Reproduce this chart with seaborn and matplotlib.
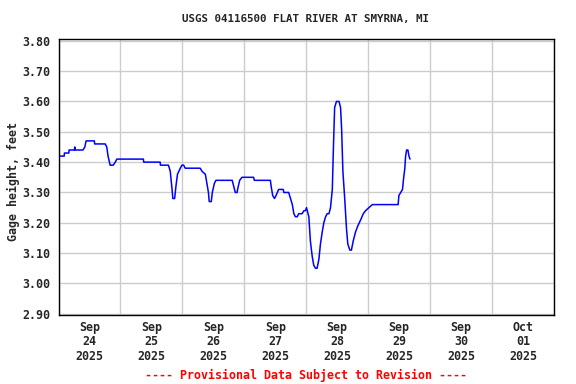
import pandas as pd
import seaborn as sns
import matplotlib.pyplot as plt

# hours since Sep 24 00:00, gage height in feet
hours = [0, 2.2, 2.3, 4.0, 4.1, 6.2, 6.3, 6.5, 9.5, 10.2, 10.7, 13.9, 14.0, 18.1, 18.7,
         19.2, 20.0, 21.2, 22.0, 22.6, 32.9, 33.0, 39.4, 39.5, 42.6, 43.3, 44.0, 44.3, 45.0,
         45.5, 46.1, 47.2, 47.8, 48.5, 49.1, 54.9, 55.6, 56.9, 57.5, 58.1, 58.4, 59.2, 59.6,
         60.4, 61.0, 67.3, 67.9, 68.5, 69.2, 69.4, 70.2, 71.1, 75.6, 75.9, 82.1, 82.4, 83.0,
         83.7, 84.3, 85.3, 86.0, 87.1, 87.3, 89.2, 89.9, 90.6, 91.2, 91.8, 92.5, 93.1, 94.4,
         95.1, 95.7, 96.1, 96.4, 97.0, 97.6, 98.3, 98.9, 99.6, 100.2, 100.9, 101.5, 102.2,
         102.8, 103.5, 104.1, 104.8, 105.4, 106.1, 106.5, 107.0, 107.7, 108.7, 109.3, 109.7,
         110.2, 110.9, 111.6, 112.1, 112.9, 113.5, 114.2, 115.1, 116.0, 117.1, 118.1, 119.0,
         120.3, 121.6, 131.6, 131.9, 132.6, 133.3, 133.7, 134.2, 134.5, 134.9, 135.4, 135.8,
         136.2]
gage = [3.42, 3.42, 3.43, 3.43, 3.44, 3.44, 3.45, 3.44, 3.44, 3.45, 3.47, 3.47, 3.46, 3.46, 3.45,
        3.42, 3.39, 3.39, 3.40, 3.41, 3.41, 3.40, 3.40, 3.39, 3.39, 3.37, 3.31, 3.28, 3.28,
        3.32, 3.36, 3.38, 3.39, 3.39, 3.38, 3.38, 3.37, 3.36, 3.33, 3.30, 3.27, 3.27, 3.30,
        3.33, 3.34, 3.34, 3.32, 3.30, 3.30, 3.31, 3.34, 3.35, 3.35, 3.34, 3.34, 3.32, 3.29,
        3.28, 3.29, 3.31, 3.31, 3.31, 3.30, 3.30, 3.28, 3.26, 3.23, 3.22, 3.22, 3.23, 3.23,
        3.24, 3.24, 3.25, 3.24, 3.22, 3.14, 3.09, 3.06, 3.05, 3.05, 3.08, 3.13, 3.17,
        3.20, 3.22, 3.23, 3.23, 3.25, 3.31, 3.44, 3.58, 3.60, 3.60, 3.58, 3.51,
        3.37, 3.28, 3.18, 3.13, 3.11, 3.11, 3.14, 3.17, 3.19, 3.21, 3.23, 3.24,
        3.25, 3.26, 3.26, 3.29, 3.30, 3.31, 3.345, 3.38, 3.42, 3.44, 3.44, 3.42,
        3.41]

day_labels = ['Sep\n24\n2025', 'Sep\n25\n2025', 'Sep\n26\n2025', 'Sep\n27\n2025',
              'Sep\n28\n2025', 'Sep\n29\n2025', 'Sep\n30\n2025', 'Oct\n01\n2025']
y_ticks = [2.90, 3.00, 3.10, 3.20, 3.30, 3.40, 3.50, 3.60, 3.70, 3.80]

df = pd.DataFrame({'hours': hours, 'gage': gage})

sns.set_style('white')
plt.rcParams['font.family'] = ['DejaVu Sans Mono']
plt.rcParams['font.weight'] = 'bold'

fig = plt.figure(figsize=(5.76, 3.84), dpi=100)
ax = fig.add_axes([58.5 / 576, 1 - 315.3 / 384, (554 - 58.5) / 576, (315.3 - 39.3) / 384])

sns.lineplot(data=df, x='hours', y='gage', color='#0000FF', linewidth=1.1, ax=ax)

ax.set_xlim(0, 192)
ax.set_ylim(2.895, 3.805)

ax.set_xticks(range(0, 193, 24))
ax.set_xticklabels([])
ax.set_xticks([12 + 24 * i for i in range(8)], minor=True)
ax.set_xticklabels(day_labels, minor=True, fontsize=8.4, fontweight='bold', linespacing=1.15)
ax.set_yticks(y_ticks)
ax.set_yticklabels([f'{v:.2f}' for v in y_ticks], fontsize=8.4, fontweight='bold')
ax.tick_params(axis='both', which='both', length=0)
ax.tick_params(axis='x', which='minor', pad=4)
ax.tick_params(axis='y', pad=6)

ax.grid(True, which='major', color='#CCCCCC', linewidth=1)
ax.set_axisbelow(True)
for s in ax.spines.values():
    s.set_color('black')
    s.set_linewidth(1)

ax.set_xlabel('')
ax.set_ylabel('')
fig.text(13 / 576, 1 - 181 / 384, 'Gage height, feet', rotation=90,
         ha='center', va='center', fontsize=8.4, fontweight='bold')

fig.text(306 / 576, 1 - 19 / 384, 'USGS 04116500 FLAT RIVER AT SMYRNA, MI',
         ha='center', va='center', fontsize=7.8, fontweight='bold')
fig.text(306 / 576, 1 - 375 / 384, '---- Provisional Data Subject to Revision ----',
         ha='center', va='center', fontsize=8.4, fontweight='bold', color='#FF0000')

fig.savefig('out.png', dpi=100)
